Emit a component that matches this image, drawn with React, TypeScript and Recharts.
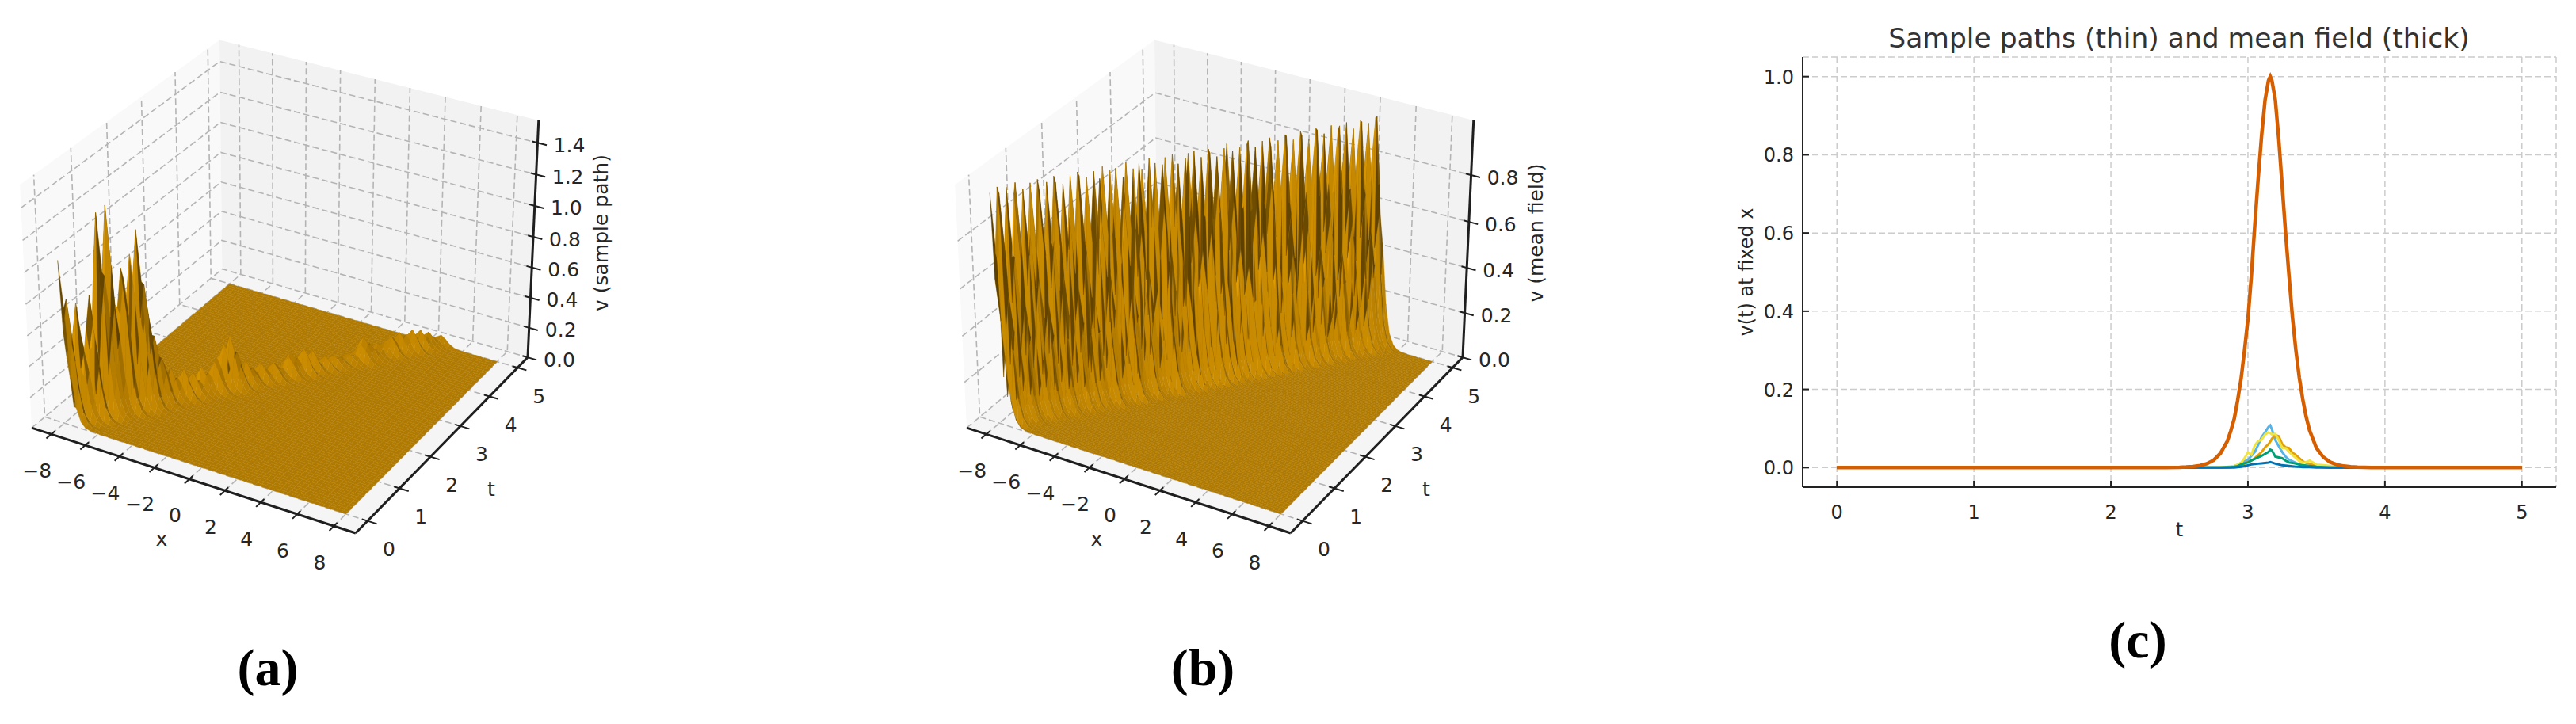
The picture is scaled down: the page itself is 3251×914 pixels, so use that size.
import { useMemo } from "react";
import {
  CartesianGrid,
  Label,
  Line,
  LineChart,
  Scatter,
  ScatterChart,
  XAxis,
  YAxis,
} from "recharts";

const FONT = "'DejaVu Sans', sans-serif";

// ---- panel (c): v(t) at fixed x
const tGrid = [
  0, 1, 2, 2.3, 2.4, 2.5, 2.55, 2.6, 2.65, 2.7, 2.75, 2.8, 2.85, 2.875, 2.9, 2.925, 2.95, 2.975, 3, 3.025,
  3.05, 3.075, 3.1, 3.125, 3.15, 3.163, 3.175, 3.2, 3.225, 3.25, 3.275, 3.3, 3.325, 3.35, 3.375, 3.4, 3.425,
  3.45, 3.5, 3.55, 3.6, 3.65, 3.7, 3.75, 3.8, 3.9, 4, 5,
];
const meanField = [
  0, 0, 0, 0, 0.0002, 0.0008, 0.0015, 0.0028, 0.0053, 0.01, 0.019, 0.037, 0.068, 0.094, 0.125, 0.172, 0.227, 0.3,
  0.38, 0.49, 0.62, 0.74, 0.85, 0.94, 0.99, 1, 0.99, 0.94, 0.84, 0.72, 0.6, 0.49, 0.385, 0.3, 0.23, 0.175, 0.13,
  0.095, 0.05, 0.027, 0.014, 0.0075, 0.004, 0.002, 0.001, 0.0003, 0, 0,
];
const pathSky = [
  0, 0, 0, 0, 0, 0, 0, 0, 0, 0, 0, 0, 0.001, 0.002, 0.004, 0.007, 0.012, 0.016, 0.02, 0.03, 0.04, 0.058, 0.078, 0.09,
  0.104, 0.108, 0.098, 0.07, 0.055, 0.04, 0.028, 0.02, 0.016, 0.012, 0.008, 0.006, 0.004, 0.003, 0.002, 0.001, 0, 0,
  0, 0, 0, 0, 0, 0,
];
const pathOrange = [
  0, 0, 0, 0, 0, 0, 0, 0, 0, 0, 0, 0, 0, 0.001, 0.002, 0.004, 0.006, 0.01, 0.015, 0.018, 0.024, 0.032, 0.04, 0.052,
  0.06, 0.066, 0.074, 0.083, 0.08, 0.06, 0.052, 0.05, 0.038, 0.032, 0.024, 0.016, 0.012, 0.01, 0.004, 0.002, 0, 0, 0,
  0, 0, 0, 0, 0,
];
const pathYellow = [
  0, 0, 0, 0, 0, 0, 0, 0, 0, 0, 0, 0.001, 0.002, 0.003, 0.004, 0.008, 0.012, 0.024, 0.039, 0.033, 0.057, 0.068, 0.071,
  0.085, 0.09, 0.088, 0.085, 0.086, 0.07, 0.05, 0.05, 0.04, 0.032, 0.025, 0.017, 0.012, 0.014, 0.018, 0.008, 0.006,
  0.004, 0.003, 0.001, 0, 0, 0, 0, 0,
];
const pathGreen = [
  0, 0, 0, 0, 0, 0, 0, 0, 0, 0, 0, 0, 0.001, 0.001, 0.002, 0.004, 0.008, 0.011, 0.013, 0.018, 0.022, 0.026, 0.03,
  0.035, 0.04, 0.046, 0.044, 0.028, 0.026, 0.024, 0.018, 0.013, 0.012, 0.01, 0.008, 0.006, 0.005, 0.004, 0.002, 0.001,
  0, 0, 0, 0, 0, 0, 0, 0,
];
const pathBlue = [
  0, 0, 0, 0, 0, 0, 0, 0, 0, 0, 0, 0, 0, 0, 0, 0.001, 0.002, 0.004, 0.006, 0.008, 0.009, 0.01, 0.011, 0.012, 0.013,
  0.014, 0.013, 0.01, 0.008, 0.006, 0.005, 0.004, 0.003, 0.002, 0.002, 0.001, 0.001, 0.001, 0, 0, 0, 0, 0, 0, 0, 0, 0,
  0,
];
const tTicksC = [0, 1, 2, 3, 4, 5];
const vTicksC = [0, 0.2, 0.4, 0.6, 0.8, 1];

const rowsC = tGrid.map((t, i) => ({
  t,
  mean: meanField[i],
  sky: pathSky[i],
  orange: pathOrange[i],
  yellow: pathYellow[i],
  green: pathGreen[i],
  blue: pathBlue[i],
}));

const crestSample = [
  1.05, 0.8, 0.55, 0.76, 0.45, 0.8, 0.6, 1.3, 0.9, 1.33, 0.7, 0.93, 0.85, 1.0, 1.15, 0.8, 0.65, 0.45, 0.3, 0.25, 0.22,
  0.15, 0.2, 0.12, 0.16, 0.1, 0.18, 0.14, 0.2, 0.22, 0.3, 0.36, 0.24, 0.15, 0.17, 0.11, 0.09, 0.13, 0.08, 0.12, 0.1,
  0.07, 0.14, 0.16, 0.11, 0.17, 0.1, 0.14, 0.06, 0.09, 0.05, 0.08, 0.06, 0.05, 0.07, 0.06, 0.12, 0.16, 0.11, 0.07,
  0.09, 0.1, 0.13, 0.11, 0.14, 0.12, 0.15, 0.1, 0.13, 0.08, 0.1, 0.06, 0.07,
];
const crestMean = [
  0.98, 0.62, 1, 0.97, 0.55, 0.99, 0.7, 0.96, 1, 0.5, 0.97, 0.78, 0.99, 0.6, 1, 0.95, 0.48, 0.98, 0.74, 1, 0.97, 0.58,
  0.96, 0.82, 0.99, 0.52, 1, 0.98, 0.66, 0.97, 0.45, 0.99, 0.96, 0.76, 1, 0.56, 0.98, 0.99, 0.62, 0.95, 0.8, 1, 0.5,
  0.97, 0.99, 0.7, 0.96, 0.54, 1, 0.98, 0.44, 0.97, 0.78, 0.99, 0.6, 1, 0.96, 0.68, 0.98, 0.47, 0.99, 1, 0.72, 0.97,
  0.57, 1, 0.98, 0.64, 0.96, 0.83, 0.99, 0.5, 1, 0.97, 0.75, 0.98, 0.55, 0.99, 1, 0.46, 0.97, 0.7, 0.99, 0.6, 1, 0.96,
  0.8, 0.98, 0.52, 1, 0.99, 0.66, 0.97, 0.48, 1, 0.98, 0.74, 0.96, 0.58, 1, 0.99, 0.5, 0.97, 0.76, 1, 0.62, 0.98, 0.99,
  0.45, 1, 0.72, 0.97, 0.56, 1, 0.99, 0.68, 0.98, 0.52, 1, 1, 0.6,
];
// share of the crest left at 0, 0.25, 0.5, ... units of x from it
const crossSection = [1, 0.72, 0.33, 0.12, 0.04, 0.012, 0.004, 0.001, 0];
const xStations = [
  -8, -7.75, -7.5, -7.25, -7, -6.75, -6.5, -6.25, -6, -5.75, -5.5, -5.25, -5, -4.75, -4.5, -4.25, -4, -3.75, -3.5,
  -3.25, -3, -2.75, -2.5, -2.25, -2, -1.75, -1.5, -1.25, -1, -0.75, -0.5, -0.25, 0, 0.25, 0.5, 0.75, 1, 1.25, 1.5, 1.75,
  2, 2.25, 2.5, 2.75, 3, 3.25, 3.5, 3.75, 4, 4.25, 4.5, 4.75, 5, 5.25, 5.5, 5.75, 6, 6.25, 6.5, 6.75, 7, 7.25, 7.5, 7.75,
  8,
];
const PULSE_SPEED = 2.54;

const xTicks3d = [-8, -6, -4, -2, 0, 2, 4, 6, 8];
const tTicks3d = [0, 1, 2, 3, 4, 5];
const vTicksSample = [0, 0.2, 0.4, 0.6, 0.8, 1, 1.2, 1.4];
const vTicksMean = [0, 0.2, 0.4, 0.6, 0.8];

const X_MIN = -9.17;
const X_MAX = 9.17;
const T_MIN = -0.365;
const T_MAX = 5.365;
const SURFACE_RGB = [230, 159, 0];
const LIGHT = [-0.667, -0.667, 0.333];

type Piece = {
  x: number;
  y: number;
  pts?: number[][];
  fill?: string;
  stroke?: string;
  sw?: number;
  dash?: string;
  label?: string;
  rotate?: boolean;
  size?: number;
  anchor?: string;
};

// matplotlib's default 3D camera: elev 30, azim -60, dist 10, box 4:4:3
function makeProjector(zTop: number, left: number) {
  const k = (1.8294640721620434 * (25 / 24)) / Math.hypot(4, 4, 3);
  const box = [4 * k, 4 * k, 3 * k];
  const e = (30 * Math.PI) / 180;
  const a = (-60 * Math.PI) / 180;
  const w = [Math.cos(e) * Math.cos(a), Math.cos(e) * Math.sin(a), Math.sin(e)];
  const eye = [box[0] / 2 + 10 * w[0], box[1] / 2 + 10 * w[1], box[2] / 2 + 10 * w[2]];
  const uLen = Math.hypot(w[1], w[0]);
  const u = [-w[1] / uLen, w[0] / uLen, 0];
  const up = [w[1] * u[2] - w[2] * u[1], w[2] * u[0] - w[0] * u[2], w[0] * u[1] - w[1] * u[0]];
  const raw = (x: number, t: number, z: number) => {
    const v = [
      ((x - X_MIN) / (X_MAX - X_MIN)) * box[0] - eye[0],
      ((t - T_MIN) / (T_MAX - T_MIN)) * box[1] - eye[1],
      (z / zTop) * box[2] - eye[2],
    ];
    const d = -(v[0] * w[0] + v[1] * w[1] + v[2] * w[2]);
    return [(v[0] * u[0] + v[1] * u[1]) / d, (v[0] * up[0] + v[1] * up[1] + v[2] * up[2]) / d, d];
  };
  // fit the unit projection onto the drawn box
  const pl = raw(X_MIN, T_MIN, 0);
  const pr = raw(X_MAX, T_MAX, 0);
  const pf = raw(X_MAX, T_MIN, 0);
  const pt = raw(X_MAX, T_MAX, zTop);
  const sx = (626 / (pr[0] - pl[0]));
  const sy = (673 - 152) / (pt[1] - pf[1]);
  return (x: number, t: number, z: number) => {
    const p = raw(x, t, z);
    return [left + (p[0] - pl[0]) * sx, 673 - (p[1] - pf[1]) * sy, p[2]];
  };
}

function pathPiece(points: number[][], style: Partial<Piece>): Piece {
  const [ox, oy] = points[0];
  return {
    x: ox,
    y: oy,
    pts: points.map((p) => [+(p[0] - ox).toFixed(2), +(p[1] - oy).toFixed(2)]),
    ...style,
  };
}

function buildPanel(crest: number[], zTop: number, vTicks: number[], left: number) {
  const project = makeProjector(zTop, left);
  const rows = crest.length - 1;
  const tAt = (i: number) => (5 * i) / rows;
  const height = (i: number, j: number) => {
    const at = Math.round((PULSE_SPEED * tAt(i)) / 0.25);
    return crest[i] * (crossSection[Math.abs(j - at)] ?? 0);
  };

  const cells: { piece: Piece; d: number }[] = [];
  for (let i = 0; i < rows; i++) {
    for (let j = 0; j < xStations.length - 1; j++) {
      const c = [
        [xStations[j], tAt(i), height(i, j)],
        [xStations[j + 1], tAt(i), height(i, j + 1)],
        [xStations[j + 1], tAt(i + 1), height(i + 1, j + 1)],
        [xStations[j], tAt(i + 1), height(i + 1, j)],
      ];
      const d1 = [c[2][0] - c[0][0], c[2][1] - c[0][1], c[2][2] - c[0][2]];
      const d2 = [c[3][0] - c[1][0], c[3][1] - c[1][1], c[3][2] - c[1][2]];
      const n = [d1[1] * d2[2] - d1[2] * d2[1], d1[2] * d2[0] - d1[0] * d2[2], d1[0] * d2[1] - d1[1] * d2[0]];
      const len = Math.hypot(n[0], n[1], n[2]);
      const dot = (n[0] * LIGHT[0] + n[1] * LIGHT[1] + n[2] * LIGHT[2]) / len;
      const shade = 0.3 + (0.7 * (dot + 1)) / 2;
      const fill = `rgb(${SURFACE_RGB.map((v) => Math.round(v * shade)).join(",")})`;
      const pts = c.map((p) => project(p[0], p[1], p[2]));
      cells.push({
        piece: pathPiece(pts, { fill, stroke: fill, sw: 0.35 }),
        d: (pts[0][2] + pts[1][2] + pts[2][2] + pts[3][2]) / 4,
      });
    }
  }
  const surface = cells.sort((p, q) => q.d - p.d).map((c) => c.piece);

  const panes: Piece[] = [
    pathPiece(
      [project(X_MIN, T_MIN, 0), project(X_MIN, T_MAX, 0), project(X_MIN, T_MAX, zTop), project(X_MIN, T_MIN, zTop)],
      { fill: "#f9f9f9" },
    ),
    pathPiece(
      [project(X_MIN, T_MAX, 0), project(X_MAX, T_MAX, 0), project(X_MAX, T_MAX, zTop), project(X_MIN, T_MAX, zTop)],
      { fill: "#f2f2f2" },
    ),
    pathPiece(
      [project(X_MIN, T_MIN, 0), project(X_MAX, T_MIN, 0), project(X_MAX, T_MAX, 0), project(X_MIN, T_MAX, 0)],
      { fill: "#f5f5f5" },
    ),
  ];

  const gridStyle = { stroke: "#b4b4b4", sw: 1.6, dash: "8 4" };
  const grid: Piece[] = [
    ...xTicks3d.map((x) =>
      pathPiece([project(x, T_MIN, 0), project(x, T_MAX, 0), project(x, T_MAX, zTop)], gridStyle),
    ),
    ...tTicks3d.map((t) =>
      pathPiece([project(X_MAX, t, 0), project(X_MIN, t, 0), project(X_MIN, t, zTop)], gridStyle),
    ),
    ...vTicks.map((v) =>
      pathPiece([project(X_MIN, T_MIN, v), project(X_MIN, T_MAX, v), project(X_MAX, T_MAX, v)], gridStyle),
    ),
  ];

  const axisStyle = { stroke: "#1f1f1f", sw: 3 };
  const tickStyle = { stroke: "#1f1f1f", sw: 2 };
  const lines: Piece[] = [
    pathPiece([project(X_MIN, T_MIN, 0), project(X_MAX, T_MIN, 0)], axisStyle),
    pathPiece([project(X_MAX, T_MIN, 0), project(X_MAX, T_MAX, 0)], axisStyle),
    pathPiece([project(X_MAX, T_MAX, 0), project(X_MAX, T_MAX, zTop)], axisStyle),
    ...xTicks3d.map((x) => pathPiece([project(x, T_MIN + 0.1, 0), project(x, T_MIN - 0.14, 0)], tickStyle)),
    ...tTicks3d.map((t) => pathPiece([project(X_MAX - 0.3, t, 0), project(X_MAX + 0.5, t, 0)], tickStyle)),
    ...vTicks.map((v) => pathPiece([project(X_MAX - 0.3, T_MAX, v), project(X_MAX + 0.5, T_MAX, v)], tickStyle)),
  ];

  const text = (x: number, y: number, label: string, extra: Partial<Piece> = {}): Piece => ({ x, y, label, ...extra });
  const labels: Piece[] = [
    ...xTicks3d.map((x) => {
      const p = project(x, T_MIN, 0);
      return text(p[0] - 18, p[1] + 46, String(x).replace("-", "\u2212"));
    }),
    ...tTicks3d.map((t) => {
      const p = project(X_MAX, t, 0);
      return text(p[0] + 27, p[1] + 36, String(t));
    }),
    ...vTicks.map((v) => {
      const p = project(X_MAX, T_MAX, v);
      return text(p[0] + 40, p[1] + 3, v.toFixed(1));
    }),
    text(left + 164, 680, "x"),
    text(left + 580, 617, "t"),
    text(left + 718, 294, zTop > 1.2 ? "v (sample path)" : "v (mean field)", { rotate: true }),
  ];
  return { panes, grid, surface, lines, labels };
}

function PieceShape(props: any) {
  const { cx, cy, payload } = props;
  const p: Piece = payload;
  if (p.label) {
    return (
      <text
        x={cx}
        y={cy}
        fontFamily={FONT}
        fontSize={p.size ?? 25}
        fill="#262626"
        textAnchor="middle"
        dominantBaseline="central"
        transform={p.rotate ? `rotate(-90 ${cx} ${cy})` : undefined}
      >
        {p.label}
      </text>
    );
  }
  const d = (p.pts ?? []).map((q, i) => `${i ? "L" : "M"}${(cx + q[0]).toFixed(2)} ${(cy + q[1]).toFixed(2)}`).join("");
  return (
    <path
      d={p.fill ? d + "Z" : d}
      fill={p.fill ?? "none"}
      stroke={p.stroke ?? "none"}
      strokeWidth={p.sw}
      strokeDasharray={p.dash}
    />
  );
}

function Surface3D({ crest, zTop, vTicks, left, caption }: any) {
  const CHART_W = 1100;
  const panel = useMemo(() => buildPanel(crest, zTop, vTicks, 40), [crest, zTop, vTicks]);
  return (
    <div style={{ position: "absolute", left, top: 0, width: CHART_W, height: 914 }}>
      <ScatterChart width={CHART_W} height={914} margin={{ top: 0, right: 0, bottom: 0, left: 0 }}>
        <XAxis type="number" dataKey="x" domain={[0, CHART_W]} hide allowDataOverflow />
        <YAxis type="number" dataKey="y" domain={[0, 914]} reversed hide allowDataOverflow />
        <Scatter data={panel.panes} shape={PieceShape} isAnimationActive={false} />
        <Scatter data={panel.grid} shape={PieceShape} isAnimationActive={false} />
        <Scatter data={panel.surface} shape={PieceShape} isAnimationActive={false} />
        <Scatter data={panel.lines} shape={PieceShape} isAnimationActive={false} />
        <Scatter data={panel.labels} shape={PieceShape} isAnimationActive={false} />
        <text
          x={338}
          y={842}
          fontFamily="'Liberation Serif', serif"
          fontWeight="bold"
          fontSize={66}
          textAnchor="middle"
          dominantBaseline="central"
        >
          {caption}
        </text>
      </ScatterChart>
    </div>
  );
}

function TickX(props: any) {
  const { x, y, payload } = props;
  return (
    <g>
      <line x1={x} x2={x} y1={y} y2={y - 8} stroke="#222" strokeWidth={2} />
      <text x={x} y={y + 32} fontFamily={FONT} fontSize={24} fill="#262626" textAnchor="middle" dominantBaseline="central">
        {payload.value}
      </text>
    </g>
  );
}

function TickY(props: any) {
  const { x, y, payload } = props;
  return (
    <g>
      <line x1={x} x2={x + 8} y1={y} y2={y} stroke="#222" strokeWidth={2} />
      <text x={x - 11} y={y + 1} fontFamily={FONT} fontSize={24} fill="#262626" textAnchor="end" dominantBaseline="central">
        {payload.value.toFixed(1)}
      </text>
    </g>
  );
}

function PathsChart() {
  return (
    <div style={{ position: "absolute", left: 2150, top: 0, width: 1101, height: 914 }}>
      <LineChart width={1101} height={914} data={rowsC} margin={{ top: 72, right: 25, bottom: 0, left: 0 }}>
        <CartesianGrid stroke="#cccccc" strokeWidth={1.5} strokeDasharray="8 4" />
        <XAxis
          type="number"
          dataKey="t"
          domain={[-0.25, 5.25]}
          ticks={tTicksC}
          height={299}
          stroke="#222"
          strokeWidth={2}
          tickLine={false}
          tickSize={0}
          tickMargin={0}
          tick={TickX}
          interval={0}
        >
          <Label value="t" position="insideTop" offset={45} fontFamily={FONT} fontSize={24} fill="#262626" />
        </XAxis>
        <YAxis
          type="number"
          domain={[-0.05, 1.05]}
          ticks={vTicksC}
          width={125}
          stroke="#222"
          strokeWidth={2}
          tickLine={false}
          tickSize={0}
          tickMargin={0}
          tick={TickY}
          interval={0}
        >
          <Label
            value="v(t) at fixed x"
            angle={-90}
            position="insideLeft"
            offset={53}
            style={{ textAnchor: "middle" }}
            fontFamily={FONT}
            fontSize={24}
            fill="#262626"
          />
        </YAxis>
        <Line dataKey="sky" stroke="#56b4e9" strokeWidth={3} dot={false} isAnimationActive={false} />
        <Line dataKey="orange" stroke="#e69f00" strokeWidth={3} dot={false} isAnimationActive={false} />
        <Line dataKey="yellow" stroke="#f0e442" strokeWidth={3} dot={false} isAnimationActive={false} />
        <Line dataKey="green" stroke="#009e73" strokeWidth={3} dot={false} isAnimationActive={false} />
        <Line dataKey="blue" stroke="#0072b2" strokeWidth={3} dot={false} isAnimationActive={false} />
        <Line dataKey="mean" stroke="#d55e00" strokeWidth={4.5} dot={false} isAnimationActive={false} />
        <text x={600} y={48} fontFamily={FONT} fontSize={34.5} fill="#333" textAnchor="middle" dominantBaseline="central">
          Sample paths (thin) and mean field (thick)
        </text>
        <text
          x={548}
          y={807}
          fontFamily="'Liberation Serif', serif"
          fontWeight="bold"
          fontSize={66}
          textAnchor="middle"
          dominantBaseline="central"
        >
          (c)
        </text>
      </LineChart>
    </div>
  );
}

export default function App() {
  return (
    <div style={{ position: "absolute", left: 0, top: 0, width: 3251, height: 914, background: "#fff", overflow: "hidden" }}>
      <Surface3D crest={crestSample} zTop={1.54} vTicks={vTicksSample} left={0} caption="(a)" />
      <Surface3D crest={crestMean} zTop={1.03} vTicks={vTicksMean} left={1180} caption="(b)" />
      <PathsChart />
    </div>
  );
}
